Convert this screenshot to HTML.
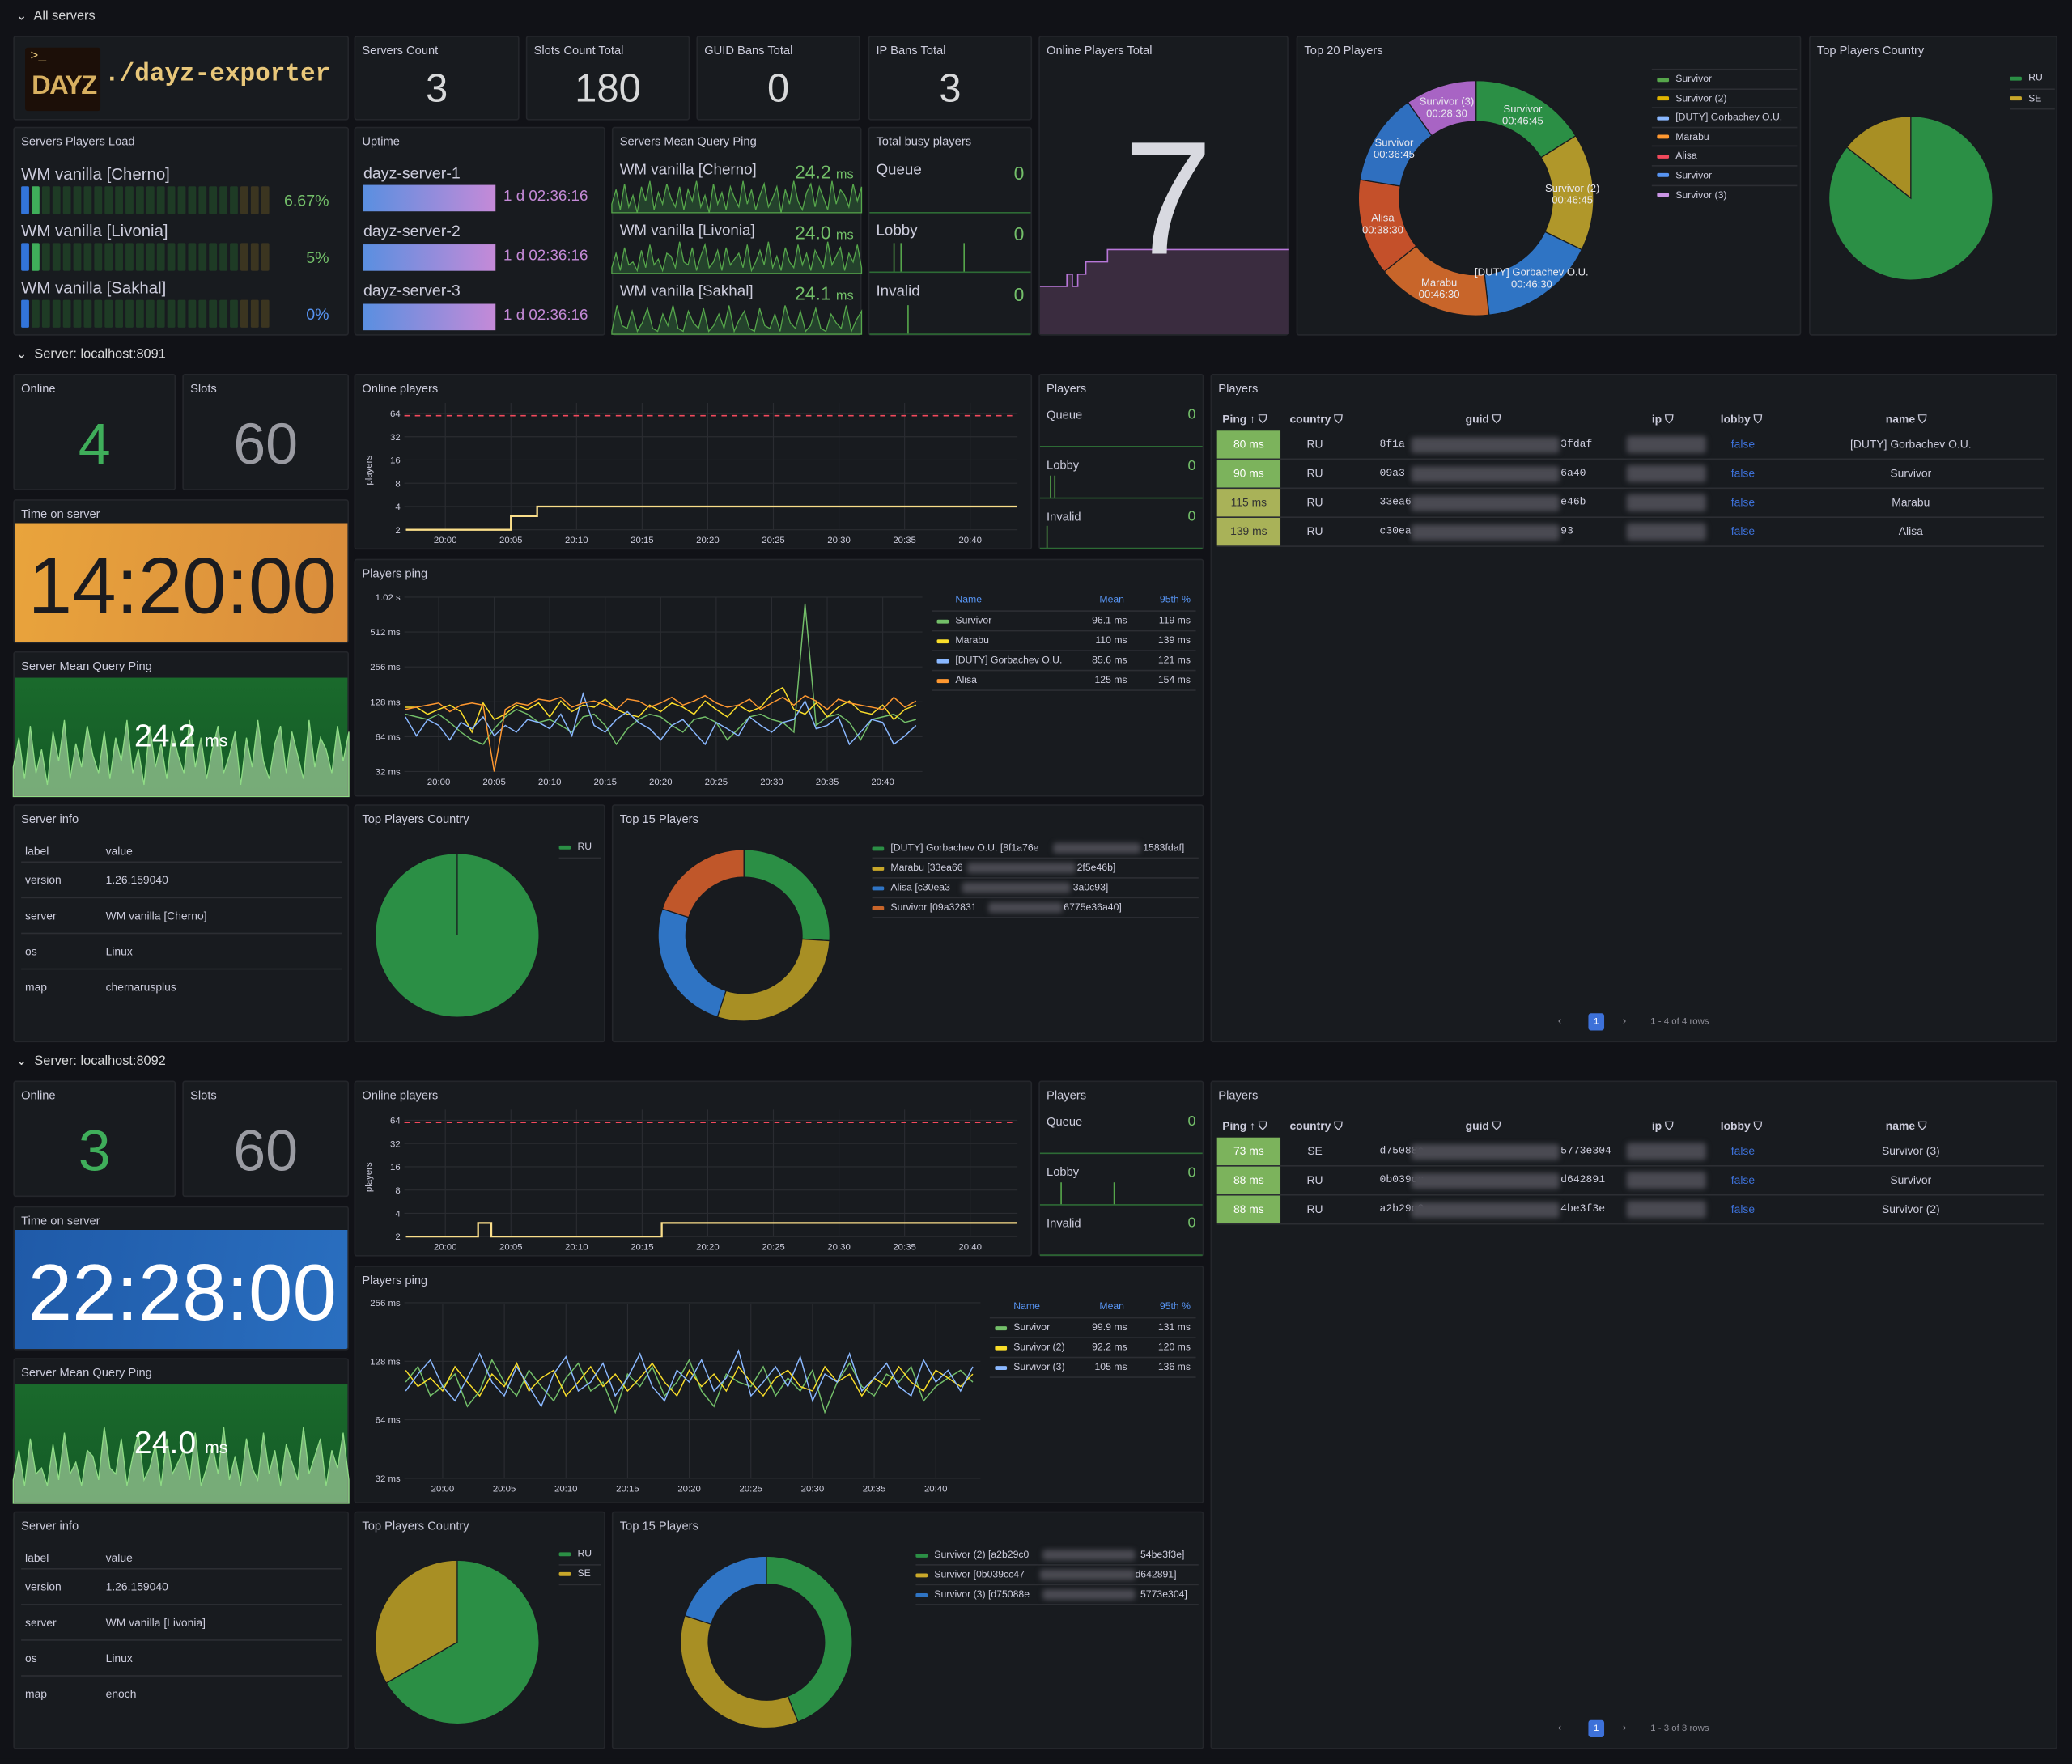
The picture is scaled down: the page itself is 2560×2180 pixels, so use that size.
<!DOCTYPE html>
<html><head><meta charset="utf-8"><style>
html,body{margin:0;padding:0;background:#111217;width:2560px;height:2173px;overflow:hidden}
#root{position:absolute;left:0;top:0;width:1568px;height:1331px;transform:scale(1.632653);transform-origin:0 0;background:#111217;font-family:"Liberation Sans",sans-serif;color:#ccccdc}
.p{position:absolute;background:#181b1f;border:1px solid #24262b;border-radius:2px;box-sizing:border-box;overflow:hidden}
.t{position:absolute;left:5px;top:5px;font-size:9px;color:#ccccdc;white-space:nowrap}
.a{position:absolute;white-space:nowrap}
.sec{position:absolute;left:0;width:1568px;height:800px}
.rh{position:absolute;left:12px;font-size:10px;color:#d8d9da}
.stat{position:absolute;left:0;right:0;text-align:center;color:#d8d9da}
.lg{position:absolute;font-size:7.5px;color:#ccccdc;white-space:nowrap}
.sw{display:inline-block;width:9px;height:3px;border-radius:1px;vertical-align:middle;margin-right:5px}
.row{position:absolute;border-bottom:1px solid #2c2e33}
.blur{position:absolute;background:#4a4a52;filter:blur(2px);border-radius:2px}
.mono{font-family:"Liberation Mono",monospace}
svg.ov{position:absolute;left:0;top:0;pointer-events:none}
</style></head><body>
<div id="root">

<div class="rh" style="top:7px">⌄&nbsp; All servers</div>

<div class="p" style="left:10px;top:27px;width:254px;height:64px">
  <div class="a" style="left:8px;top:8px;width:57px;height:48px;background:#1c0f08;border-radius:2px">
    <div class="a" style="left:4px;top:2px;font-size:10px;color:#e8c77a;font-family:'Liberation Mono',monospace">&gt;_</div>
    <div class="a" style="left:5px;top:18px;font-size:20px;font-weight:bold;color:#d8b060;letter-spacing:-1px">DAYZ</div>
  </div>
  <div class="a mono" style="left:68px;top:17px;font-size:19px;font-weight:bold;color:#e8c77a">./dayz-exporter</div>
</div>
<div class="p" style="left:268px;top:27px;width:125px;height:64px"><div class="t">Servers Count</div><div class="stat" style="top:23px;font-size:30px">3</div></div>
<div class="p" style="left:398px;top:27px;width:124px;height:64px"><div class="t">Slots Count Total</div><div class="stat" style="top:23px;font-size:30px">180</div></div>
<div class="p" style="left:527px;top:27px;width:124px;height:64px"><div class="t">GUID Bans Total</div><div class="stat" style="top:23px;font-size:30px">0</div></div>
<div class="p" style="left:657px;top:27px;width:124px;height:64px"><div class="t">IP Bans Total</div><div class="stat" style="top:23px;font-size:30px">3</div></div>
<div class="p" style="left:786px;top:27px;width:189px;height:227px"><div class="t">Online Players Total</div></div>
<div class="p" style="left:981px;top:27px;width:382px;height:227px"><div class="t">Top 20 Players</div></div>
<div class="p" style="left:1369px;top:27px;width:188px;height:227px"><div class="t">Top Players Country</div></div>

<div class="p" style="left:10px;top:96px;width:254px;height:158px"><div class="t">Servers Players Load</div>
  <div class="a" style="left:5px;top:28px;font-size:12.5px">WM vanilla [Cherno]</div>
  <div class="a" style="right:14px;top:48px;font-size:12px;color:#73bf69">6.67%</div>
  <div class="a" style="left:5px;top:71px;font-size:12.5px">WM vanilla [Livonia]</div>
  <div class="a" style="right:14px;top:91px;font-size:12px;color:#73bf69">5%</div>
  <div class="a" style="left:5px;top:114px;font-size:12.5px">WM vanilla [Sakhal]</div>
  <div class="a" style="right:14px;top:134px;font-size:12px;color:#5794f2">0%</div>
</div>
<div class="p" style="left:268px;top:96px;width:190px;height:158px"><div class="t">Uptime</div>
  <div class="a" style="left:6px;top:27px;font-size:12px">dayz-server-1</div>
  <div class="a" style="left:6px;top:43px;width:100px;height:20px;background:linear-gradient(90deg,#5a8fe0,#c58ad8)"></div>
  <div class="a" style="left:112px;top:46px;font-size:11.5px;color:#c58ad8">1 d 02:36:16</div>
  <div class="a" style="left:6px;top:71px;font-size:12px">dayz-server-2</div>
  <div class="a" style="left:6px;top:88px;width:100px;height:20px;background:linear-gradient(90deg,#5a8fe0,#c58ad8)"></div>
  <div class="a" style="left:112px;top:91px;font-size:11.5px;color:#c58ad8">1 d 02:36:16</div>
  <div class="a" style="left:6px;top:116px;font-size:12px">dayz-server-3</div>
  <div class="a" style="left:6px;top:133px;width:100px;height:20px;background:linear-gradient(90deg,#5a8fe0,#c58ad8)"></div>
  <div class="a" style="left:112px;top:136px;font-size:11.5px;color:#c58ad8">1 d 02:36:16</div>
</div>
<div class="p" style="left:463px;top:96px;width:189px;height:158px"><div class="t">Servers Mean Query Ping</div>
  <div class="a" style="left:5px;top:26px;font-size:11.5px">WM vanilla [Cherno]</div>
  <div class="a" style="right:5px;top:25px;font-size:14px;color:#73bf69">24.2 <span style="font-size:10px">ms</span></div>
  <div class="a" style="left:5px;top:72px;font-size:11.5px">WM vanilla [Livonia]</div>
  <div class="a" style="right:5px;top:71px;font-size:14px;color:#73bf69">24.0 <span style="font-size:10px">ms</span></div>
  <div class="a" style="left:5px;top:118px;font-size:11.5px">WM vanilla [Sakhal]</div>
  <div class="a" style="right:5px;top:117px;font-size:14px;color:#73bf69">24.1 <span style="font-size:10px">ms</span></div>
</div>
<div class="p" style="left:657px;top:96px;width:124px;height:158px"><div class="t">Total busy players</div>
  <div class="a" style="left:5px;top:26px;font-size:11.5px">Queue</div><div class="a" style="right:5px;top:26px;font-size:14px;color:#73bf69">0</div>
  <div class="a" style="left:5px;top:72px;font-size:11.5px">Lobby</div><div class="a" style="right:5px;top:72px;font-size:14px;color:#73bf69">0</div>
  <div class="a" style="left:5px;top:118px;font-size:11.5px">Invalid</div><div class="a" style="right:5px;top:118px;font-size:14px;color:#73bf69">0</div>
</div>

<div class="lg" style="left:1250px;top:52px;width:110px" id="top20legend"></div>
<div class="lg" style="left:1521px;top:52px;width:34px">
 <div style="height:14.5px;border-bottom:1px solid #2c2e33;line-height:14px"><span class="sw" style="background:#2b8f45"></span>RU</div>
 <div style="height:14.5px;border-bottom:1px solid #2c2e33;line-height:14px"><span class="sw" style="background:#c9a82a"></span>SE</div>
</div>

<svg class="ov" id="topsvg" width="1568" height="270" viewBox="0 0 1568 270" style="z-index:2"></svg>
<div class="a" style="left:850px;top:80px;font-size:122px;color:#d8d9e0;z-index:3">7</div>

<!-- SECTION 1 -->
<div class="sec" id="sec1" style="top:0px">
 <div class="rh" style="top:263px">⌄&nbsp; Server: localhost:8091</div>
 <div class="p" style="left:10px;top:283px;width:123px;height:88px"><div class="t">Online</div><div class="stat" style="top:28px;font-size:44px;color:#3fae5a">4</div></div>
 <div class="p" style="left:138px;top:283px;width:126px;height:88px"><div class="t">Slots</div><div class="stat" style="top:28px;font-size:44px;color:#9a9ba2">60</div></div>
 <div class="p" style="left:10px;top:378px;width:254px;height:109px"><div class="t">Time on server</div>
  <div class="a" style="left:0;top:17px;width:254px;height:92px;background:linear-gradient(100deg,#e9a43c,#d98c3c)"></div>
  <div class="a" style="left:0;width:254px;text-align:center;top:30px;font-size:60px;color:#1b1b1f">14:20:00</div></div>
 <div class="p" style="left:10px;top:493px;width:254px;height:110px"><div class="t">Server Mean Query Ping</div>
  <div class="a" style="left:0;top:19px;width:254px;height:91px;background:linear-gradient(180deg,#1a6a2c,#145a26)"></div></div>
 <div class="a" style="left:10px;width:254px;text-align:center;top:544px;font-size:24px;color:#fff;z-index:4">24.2 <span style="font-size:13px">ms</span></div>
 <div class="p" style="left:10px;top:609px;width:254px;height:180px"><div class="t">Server info</div>
  <div class="row" style="left:5px;top:26px;width:243px;height:16px;font-size:8.5px"><span class="a" style="left:3px;top:3px">label</span><span class="a" style="left:64px;top:3px">value</span></div>
  <div class="row" style="left:5px;top:43px;width:243px;height:26px;font-size:8.5px"><span class="a" style="left:3px;top:8px">version</span><span class="a" style="left:64px;top:8px">1.26.159040</span></div>
  <div class="row" style="left:5px;top:70px;width:243px;height:26px;font-size:8.5px"><span class="a" style="left:3px;top:8px">server</span><span class="a" style="left:64px;top:8px">WM vanilla [Cherno]</span></div>
  <div class="row" style="left:5px;top:97px;width:243px;height:26px;font-size:8.5px"><span class="a" style="left:3px;top:8px">os</span><span class="a" style="left:64px;top:8px">Linux</span></div>
  <div class="a" style="left:5px;top:124px;width:243px;height:26px;font-size:8.5px"><span class="a" style="left:3px;top:8px">map</span><span class="a" style="left:64px;top:8px">chernarusplus</span></div>
 </div>
 <div class="p" style="left:268px;top:283px;width:513px;height:133px"><div class="t">Online players</div></div>
 <div class="p" style="left:786px;top:283px;width:125px;height:133px"><div class="t">Players</div>
  <div class="a" style="left:5px;top:25px;font-size:9px">Queue</div><div class="a" style="right:5px;top:24px;font-size:11px;color:#73bf69">0</div>
  <div class="a" style="left:5px;top:63px;font-size:9px">Lobby</div><div class="a" style="right:5px;top:63px;font-size:11px;color:#73bf69">0</div>
  <div class="a" style="left:5px;top:102px;font-size:9px">Invalid</div><div class="a" style="right:5px;top:101px;font-size:11px;color:#73bf69">0</div>
 </div>
 <div class="p" style="left:268px;top:423px;width:643px;height:180px"><div class="t">Players ping</div></div>
 <div class="lg" style="left:705px;top:449px;width:200px">
  <div style="height:13px;border-bottom:1px solid #2c2e33;color:#5794f2;position:relative"><span class="a" style="left:18px">Name</span><span class="a" style="left:127px">Mean</span><span class="a" style="right:4px">95th %</span></div>
  <div style="height:14px;border-bottom:1px solid #2c2e33;position:relative;line-height:14px"><span class="a" style="left:4px"><span class="sw" style="background:#73bf69"></span>Survivor</span><span class="a" style="right:52px">96.1 ms</span><span class="a" style="right:4px">119 ms</span></div>
  <div style="height:14px;border-bottom:1px solid #2c2e33;position:relative;line-height:14px"><span class="a" style="left:4px"><span class="sw" style="background:#fade2a"></span>Marabu</span><span class="a" style="right:52px">110 ms</span><span class="a" style="right:4px">139 ms</span></div>
  <div style="height:14px;border-bottom:1px solid #2c2e33;position:relative;line-height:14px"><span class="a" style="left:4px"><span class="sw" style="background:#8ab8ff"></span>[DUTY] Gorbachev O.U.</span><span class="a" style="right:52px">85.6 ms</span><span class="a" style="right:4px">121 ms</span></div>
  <div style="height:14px;border-bottom:1px solid #2c2e33;position:relative;line-height:14px"><span class="a" style="left:4px"><span class="sw" style="background:#ff9830"></span>Alisa</span><span class="a" style="right:52px">125 ms</span><span class="a" style="right:4px">154 ms</span></div>
 </div>
 <div class="p" style="left:268px;top:609px;width:190px;height:180px"><div class="t">Top Players Country</div>
  <div class="lg" style="left:154px;top:26px;width:32px;border-bottom:1px solid #2c2e33;height:13px"><span class="sw" style="background:#2b8f45"></span>RU</div></div>
 <div class="p" style="left:463px;top:609px;width:448px;height:180px"><div class="t">Top 15 Players</div>
  <div class="lg" style="left:196px;top:25px;width:247px">
   <div style="height:14px;border-bottom:1px solid #2c2e33;line-height:14px;position:relative"><span class="sw" style="background:#2b8f45"></span>[DUTY] Gorbachev O.U. [8f1a76e<span class="blur" style="left:137px;top:3px;width:66px;height:8px"></span><span class="a" style="left:205px">1583fdaf]</span></div>
   <div style="height:14px;border-bottom:1px solid #2c2e33;line-height:14px;position:relative"><span class="sw" style="background:#c9a82a"></span>Marabu [33ea66<span class="blur" style="left:72px;top:3px;width:82px;height:8px"></span><span class="a" style="left:155px">2f5e46b]</span></div>
   <div style="height:14px;border-bottom:1px solid #2c2e33;line-height:14px;position:relative"><span class="sw" style="background:#2f74c4"></span>Alisa [c30ea3<span class="blur" style="left:68px;top:3px;width:82px;height:8px"></span><span class="a" style="left:152px">3a0c93]</span></div>
   <div style="height:14px;border-bottom:1px solid #2c2e33;line-height:14px;position:relative"><span class="sw" style="background:#c8652a"></span>Survivor [09a32831<span class="blur" style="left:88px;top:3px;width:56px;height:8px"></span><span class="a" style="left:145px">6775e36a40]</span></div>
  </div></div>
 <div class="p" style="left:916px;top:283px;width:641px;height:506px"><div class="t">Players</div>
  <div class="a" style="left:8px;top:28px;font-size:8.5px;font-weight:bold">Ping ↑ ⛉</div>
  <div class="a" style="left:59px;top:28px;font-size:8.5px;font-weight:bold">country ⛉</div>
  <div class="a" style="left:192px;top:28px;font-size:8.5px;font-weight:bold">guid ⛉</div>
  <div class="a" style="left:333px;top:28px;font-size:8.5px;font-weight:bold">ip ⛉</div>
  <div class="a" style="left:385px;top:28px;font-size:8.5px;font-weight:bold">lobby ⛉</div>
  <div class="a" style="left:510px;top:28px;font-size:8.5px;font-weight:bold">name ⛉</div>
  <div id="tbl1" class="a" style="left:4px;top:42px;width:626px"></div>
  <div class="a" style="left:262px;top:484px;font-size:8px;color:#8e8e98">‹</div>
  <div class="a" style="left:285px;top:483px;width:12px;height:13px;background:#3d71d9;border-radius:2px;font-size:7px;text-align:center;line-height:13px;color:#fff">1</div>
  <div class="a" style="left:311px;top:484px;font-size:8px;color:#8e8e98">›</div>
  <div class="a" style="left:332px;top:486px;font-size:7px;color:#8e8e98">1 - 4 of 4 rows</div>
 </div>
 <svg class="ov" id="svg1" width="1568" height="800" viewBox="0 0 1568 800" style="z-index:3"></svg>
</div>

<!-- SECTION 2 -->
<div class="sec" id="sec2" style="top:535px">
 <div class="rh" style="top:263px">⌄&nbsp; Server: localhost:8092</div>
 <div class="p" style="left:10px;top:283px;width:123px;height:88px"><div class="t">Online</div><div class="stat" style="top:28px;font-size:44px;color:#3fae5a">3</div></div>
 <div class="p" style="left:138px;top:283px;width:126px;height:88px"><div class="t">Slots</div><div class="stat" style="top:28px;font-size:44px;color:#9a9ba2">60</div></div>
 <div class="p" style="left:10px;top:378px;width:254px;height:109px"><div class="t">Time on server</div>
  <div class="a" style="left:0;top:17px;width:254px;height:92px;background:linear-gradient(100deg,#1f5aa8,#2a6fc0)"></div>
  <div class="a" style="left:0;width:254px;text-align:center;top:30px;font-size:60px;color:#fff">22:28:00</div></div>
 <div class="p" style="left:10px;top:493px;width:254px;height:110px"><div class="t">Server Mean Query Ping</div>
  <div class="a" style="left:0;top:19px;width:254px;height:91px;background:linear-gradient(180deg,#1a6a2c,#145a26)"></div></div>
 <div class="a" style="left:10px;width:254px;text-align:center;top:544px;font-size:24px;color:#fff;z-index:4">24.0 <span style="font-size:13px">ms</span></div>
 <div class="p" style="left:10px;top:609px;width:254px;height:180px"><div class="t">Server info</div>
  <div class="row" style="left:5px;top:26px;width:243px;height:16px;font-size:8.5px"><span class="a" style="left:3px;top:3px">label</span><span class="a" style="left:64px;top:3px">value</span></div>
  <div class="row" style="left:5px;top:43px;width:243px;height:26px;font-size:8.5px"><span class="a" style="left:3px;top:8px">version</span><span class="a" style="left:64px;top:8px">1.26.159040</span></div>
  <div class="row" style="left:5px;top:70px;width:243px;height:26px;font-size:8.5px"><span class="a" style="left:3px;top:8px">server</span><span class="a" style="left:64px;top:8px">WM vanilla [Livonia]</span></div>
  <div class="row" style="left:5px;top:97px;width:243px;height:26px;font-size:8.5px"><span class="a" style="left:3px;top:8px">os</span><span class="a" style="left:64px;top:8px">Linux</span></div>
  <div class="a" style="left:5px;top:124px;width:243px;height:26px;font-size:8.5px"><span class="a" style="left:3px;top:8px">map</span><span class="a" style="left:64px;top:8px">enoch</span></div>
 </div>
 <div class="p" style="left:268px;top:283px;width:513px;height:133px"><div class="t">Online players</div></div>
 <div class="p" style="left:786px;top:283px;width:125px;height:133px"><div class="t">Players</div>
  <div class="a" style="left:5px;top:25px;font-size:9px">Queue</div><div class="a" style="right:5px;top:24px;font-size:11px;color:#73bf69">0</div>
  <div class="a" style="left:5px;top:63px;font-size:9px">Lobby</div><div class="a" style="right:5px;top:63px;font-size:11px;color:#73bf69">0</div>
  <div class="a" style="left:5px;top:102px;font-size:9px">Invalid</div><div class="a" style="right:5px;top:101px;font-size:11px;color:#73bf69">0</div>
 </div>
 <div class="p" style="left:268px;top:423px;width:643px;height:180px"><div class="t">Players ping</div></div>
 <div class="lg" style="left:749px;top:449px;width:156px">
  <div style="height:13px;border-bottom:1px solid #2c2e33;color:#5794f2;position:relative"><span class="a" style="left:18px">Name</span><span class="a" style="left:83px">Mean</span><span class="a" style="right:4px">95th %</span></div>
  <div style="height:14px;border-bottom:1px solid #2c2e33;position:relative;line-height:14px"><span class="a" style="left:4px"><span class="sw" style="background:#73bf69"></span>Survivor</span><span class="a" style="right:52px">99.9 ms</span><span class="a" style="right:4px">131 ms</span></div>
  <div style="height:14px;border-bottom:1px solid #2c2e33;position:relative;line-height:14px"><span class="a" style="left:4px"><span class="sw" style="background:#fade2a"></span>Survivor (2)</span><span class="a" style="right:52px">92.2 ms</span><span class="a" style="right:4px">120 ms</span></div>
  <div style="height:14px;border-bottom:1px solid #2c2e33;position:relative;line-height:14px"><span class="a" style="left:4px"><span class="sw" style="background:#8ab8ff"></span>Survivor (3)</span><span class="a" style="right:52px">105 ms</span><span class="a" style="right:4px">136 ms</span></div>
 </div>
 <div class="p" style="left:268px;top:609px;width:190px;height:180px"><div class="t">Top Players Country</div>
  <div class="lg" style="left:154px;top:26px;width:32px;border-bottom:1px solid #2c2e33;height:13px"><span class="sw" style="background:#2b8f45"></span>RU</div>
  <div class="lg" style="left:154px;top:41px;width:32px;border-bottom:1px solid #2c2e33;height:13px"><span class="sw" style="background:#c9a82a"></span>SE</div></div>
 <div class="p" style="left:463px;top:609px;width:448px;height:180px"><div class="t">Top 15 Players</div>
  <div class="lg" style="left:229px;top:25px;width:214px">
   <div style="height:14px;border-bottom:1px solid #2c2e33;line-height:14px;position:relative"><span class="sw" style="background:#2b8f45"></span>Survivor (2) [a2b29c0<span class="blur" style="left:96px;top:3px;width:70px;height:8px"></span><span class="a" style="left:170px">54be3f3e]</span></div>
   <div style="height:14px;border-bottom:1px solid #2c2e33;line-height:14px;position:relative"><span class="sw" style="background:#c9a82a"></span>Survivor [0b039cc47<span class="blur" style="left:94px;top:3px;width:72px;height:8px"></span><span class="a" style="left:166px">d642891]</span></div>
   <div style="height:14px;border-bottom:1px solid #2c2e33;line-height:14px;position:relative"><span class="sw" style="background:#2f74c4"></span>Survivor (3) [d75088e<span class="blur" style="left:96px;top:3px;width:70px;height:8px"></span><span class="a" style="left:170px">5773e304]</span></div>
  </div></div>
 <div class="p" style="left:916px;top:283px;width:641px;height:506px"><div class="t">Players</div>
  <div class="a" style="left:8px;top:28px;font-size:8.5px;font-weight:bold">Ping ↑ ⛉</div>
  <div class="a" style="left:59px;top:28px;font-size:8.5px;font-weight:bold">country ⛉</div>
  <div class="a" style="left:192px;top:28px;font-size:8.5px;font-weight:bold">guid ⛉</div>
  <div class="a" style="left:333px;top:28px;font-size:8.5px;font-weight:bold">ip ⛉</div>
  <div class="a" style="left:385px;top:28px;font-size:8.5px;font-weight:bold">lobby ⛉</div>
  <div class="a" style="left:510px;top:28px;font-size:8.5px;font-weight:bold">name ⛉</div>
  <div id="tbl2" class="a" style="left:4px;top:42px;width:626px"></div>
  <div class="a" style="left:262px;top:484px;font-size:8px;color:#8e8e98">‹</div>
  <div class="a" style="left:285px;top:483px;width:12px;height:13px;background:#3d71d9;border-radius:2px;font-size:7px;text-align:center;line-height:13px;color:#fff">1</div>
  <div class="a" style="left:311px;top:484px;font-size:8px;color:#8e8e98">›</div>
  <div class="a" style="left:332px;top:486px;font-size:7px;color:#8e8e98">1 - 3 of 3 rows</div>
 </div>
 <svg class="ov" id="svg2" width="1568" height="800" viewBox="0 0 1568 800" style="z-index:3"></svg>
</div>
</div>

<script>
// ---------- DATA ----------
const serverLoads = [6.67, 5, 0];
const sparkCherno = [22,27,20,29,21,25,19,28,23,30,20,26,22,29,24,21,28,20,27,23,30,21,25,19,29,22,26,20,28,24,21,30,22,27,20,25,29,21,24,28,19,27,22,30,23,20,26,29,21,28,24,20,30,22,27,25,21,29,23,28];
const sparkLivonia = [21,26,20,28,22,23,20,27,21,29,22,24,20,26,25,21,30,23,22,28,20,25,29,21,23,27,20,28,22,24,26,21,29,20,23,27,22,30,21,25,20,28,23,21,29,22,26,20,27,24,21,30,22,25,28,20,26,23,29,21];
const sparkSakhal = [20,29,22,21,27,20,23,28,21,20,26,22,29,21,20,27,23,21,28,20,22,26,21,29,20,24,27,21,20,28,22,21,26,20,29,23,21,27,20,22,28,21,20,26,23,21,29,20,24,27];
const totalTimes = [0,5,6,7,8.5,12.5,46];
const totalVals = [4,5,4,5,6,7,7];
const busyLobbyEvents = [7,9,27];
const busyInvalidEvents = [11];
const top20Names = ["Survivor","Survivor (2)","[DUTY] Gorbachev O.U.","Marabu","Alisa","Survivor","Survivor (3)"];
const top20Seconds = [2805,2805,2790,2790,2310,2205,1710];
const top20Labels = ["00:46:45","00:46:45","00:46:30","00:46:30","00:38:30","00:36:45","00:28:30"];
const countryTop = [6,1];
const online1Times = [-3,5,7,43.6];
const online1Vals = [2,3,4,4];
const pingSurvivor1 = [100,95,90,100,85,70,60,55,75,95,110,100,85,90,80,70,95,100,80,55,75,90,100,95,80,70,90,95,85,60,75,95,100,90,85,70,900,80,95,100,85,60,90,95,100,85,90];
const pingMarabu1 = [115,115,100,110,120,105,70,125,90,100,120,110,125,95,130,105,120,115,135,110,100,95,120,105,125,115,100,130,110,95,120,105,115,150,170,110,100,125,95,115,130,105,100,120,90,110,120];
const pingGorbachev1 = [95,65,90,80,60,85,75,95,65,80,70,90,85,75,100,65,150,80,70,90,105,85,75,60,80,90,70,55,85,75,65,95,80,70,85,90,130,75,80,95,55,70,90,85,55,65,80];
const pingAlisa1 = [110,115,120,125,105,120,125,120,32,110,125,120,135,130,140,115,125,130,120,110,135,130,115,125,140,120,130,145,125,115,120,135,110,125,140,120,145,130,110,135,125,120,115,110,140,115,130];
const lobby1Events = [3,4.2];
const invalid1Events = [2];
const country1 = [4];
const top15Values1 = [26,29,25,20];
const online2Times = [-3,2.5,3.5,16.5,43.6];
const online2Vals = [2,3,2,3,3];
const pingSurvivor2 = [100,120,85,95,110,75,90,130,100,85,115,95,80,105,125,90,100,70,110,95,120,85,100,130,90,75,110,100,95,120,85,105,90,115,70,100,125,95,85,110,100,120,80,95,105,115,100];
const pingSurvivorB2 = [115,95,105,90,120,100,85,110,95,125,90,105,115,85,100,120,95,110,90,105,125,100,85,115,95,110,90,120,100,85,105,115,95,90,120,100,110,85,105,95,120,100,90,115,105,95,110];
const pingSurvivorC2 = [90,110,130,95,80,105,140,100,85,120,95,75,110,135,90,100,125,85,105,140,95,80,115,100,130,90,105,145,85,100,120,95,135,80,110,100,140,90,105,125,95,85,130,100,115,90,120];
const lobby2Events = [6,21];
const invalid2Events = [];
const country2 = [2,1];
const top15Values2 = [44,36,20];
const onlineTicksY = [2,4,8,16,32,64];
const timeTicks = [0,5,10,15,20,25,30,35,40];
const ping1TicksY = [32,64,128,256,512,1024];
const ping1TickLabels = ["32 ms","64 ms","128 ms","256 ms","512 ms","1.02 s"];
const ping2TicksY = [32,64,128,256];
const ping2TickLabels = ["32 ms","64 ms","128 ms","256 ms"];
const table1 = [
 {ping:80,country:"RU",g1:"8f1a",g2:"3fdaf",name:"[DUTY] Gorbachev O.U."},
 {ping:90,country:"RU",g1:"09a3",g2:"6a40",name:"Survivor"},
 {ping:115,country:"RU",g1:"33ea6",g2:"e46b",name:"Marabu"},
 {ping:139,country:"RU",g1:"c30ea",g2:"93",name:"Alisa"}];
const table2 = [
 {ping:73,country:"SE",g1:"d75088e",g2:"5773e304",name:"Survivor (3)"},
 {ping:88,country:"RU",g1:"0b039cc",g2:"d642891",name:"Survivor"},
 {ping:88,country:"RU",g1:"a2b29c0",g2:"4be3f3e",name:"Survivor (2)"}];

// ---------- HELPERS ----------
const NS='http://www.w3.org/2000/svg';
function mk(parent,tag,attrs){const e=document.createElementNS(NS,tag);for(const k in attrs)e.setAttribute(k,attrs[k]);parent.appendChild(e);return e;}
function txt(parent,x,y,s,size,fill,anchor){const e=mk(parent,'text',{x:x,y:y,'font-size':size,fill:fill,'text-anchor':anchor||'start','font-family':'Liberation Sans, sans-serif'});e.textContent=s;return e;}
const L2=Math.log2;

function sparkArea(svg,vals,x0,x1,yb,h,lo,hi,line,fill,name){
  const n=vals.length;let d='M'+x0+','+yb;
  vals.forEach((v,i)=>{const x=x0+(x1-x0)*i/(n-1);const y=yb-(v-lo)/(hi-lo)*h;d+=' L'+x.toFixed(1)+','+y.toFixed(1);});
  d+=' L'+x1+','+yb+' Z';
  const p=mk(svg,'path',{d:d,fill:fill,stroke:line,'stroke-width':0.8});
  
  
}
function spikes(svg,events,span,x0,x1,yb,h,name){
  events.forEach(t=>{const x=x0+(x1-x0)*t/span;
    const l=mk(svg,'line',{x1:x,y1:yb,x2:x,y2:yb-h,stroke:'#56a64b','stroke-width':1});
    
    });
  const b=mk(svg,'line',{x1:x0,y1:yb,x2:x1,y2:yb,stroke:'#2d6b35','stroke-width':1});
  
  
}
function arc(cx,cy,r0,r1,a0,a1){
  if(a1-a0>=2*Math.PI-1e-6){a1=a0+2*Math.PI-1e-4;}
  const p=(r,a)=>[cx+r*Math.sin(a),cy-r*Math.cos(a)];const lg=(a1-a0)>Math.PI?1:0;
  const [x0,y0]=p(r1,a0),[x1,y1]=p(r1,a1);
  if(r0<=0){return `M${cx},${cy} L${x0},${y0} A${r1},${r1} 0 ${lg} 1 ${x1},${y1} Z`;}
  const [x2,y2]=p(r0,a1),[x3,y3]=p(r0,a0);
  return `M${x0},${y0} A${r1},${r1} 0 ${lg} 1 ${x1},${y1} L${x2},${y2} A${r0},${r0} 0 ${lg} 0 ${x3},${y3} Z`;
}
function donut(svg,vals,colors,cx,cy,r0,r1,name,startDir){
  const tot=vals.reduce((a,b)=>a+b,0);let a=0;const mids=[];
  vals.forEach((v,i)=>{const s=v/tot*2*Math.PI;const a0=startDir*a, a1=startDir*(a+s);
    const p=mk(svg,'path',{d:arc(cx,cy,r0,r1,Math.min(a0,a1),Math.max(a0,a1)),fill:colors[i],stroke:'#181b1f','stroke-width':0.8});
    
    
    mids.push(startDir*(a+s/2));a+=s;});
  return mids;
}
function gridAndAxes(svg,xf,yf,ticksY,labelsY,left,right,top0,bottom,name){
  ticksY.forEach((v,i)=>{const y=yf(v);
    const g=mk(svg,'line',{x1:left,y1:y,x2:right,y2:y,stroke:'#2a2c31','stroke-width':0.7});
    
    
    const t=txt(svg,left-3,y+2.5,labelsY[i],7,'#ccccdc','end');
    
    });
  timeTicks.forEach(m=>{const x=xf(m);
    const g=mk(svg,'line',{x1:x,y1:top0,x2:x,y2:bottom,stroke:'#2a2c31','stroke-width':0.7});
    
    
    const lbl='20:'+(m<10?'0':'')+m;
    const t=txt(svg,x,bottom+10,lbl,7,'#ccccdc','middle');
    
    });
}
function lineSeries(svg,vals,start,xf,yf,color,name){
  let d='';vals.forEach((v,i)=>{d+=(i?' L':'M')+xf(start+i).toFixed(1)+','+yf(v).toFixed(1);});
  const p=mk(svg,'path',{d:d,fill:'none',stroke:color,'stroke-width':0.9});
  
  
}
function stepSeries(svg,times,vals,xf,yf,color,name){
  let d='M'+xf(times[0]).toFixed(1)+','+yf(vals[0]).toFixed(1);
  for(let i=1;i<times.length;i++){d+=' H'+xf(times[i]).toFixed(1)+' V'+yf(vals[i]).toFixed(1);}
  const p=mk(svg,'path',{d:d,fill:'none',stroke:color,'stroke-width':1.4});
  
  
}

// ---------- TOP ----------
const topSvg=document.getElementById('topsvg');
serverLoads.forEach((v,r)=>{
  const lit=Math.max(1,Math.ceil(v/100*24));
  for(let i=0;i<24;i++){
    let c=i<21?'#1e3b25':'#3b3520';
    if(i<lit)c=i===0?'#3274d9':'#3fae5a';
    const x=16+i*7.9;const y=141+r*43;
    const rc=mk(topSvg,'rect',{x:x,y:y,width:6,height:21,fill:c,rx:1});
    
    
  }
});
sparkArea(topSvg,sparkCherno,463,652,161,24,19,30,'#56a64b','rgba(60,140,70,0.35)','spark-cherno');
sparkArea(topSvg,sparkLivonia,463,652,207,24,19,30,'#56a64b','rgba(60,140,70,0.35)','spark-livonia');
sparkArea(topSvg,sparkSakhal,463,652,253,24,19,30,'#56a64b','rgba(60,140,70,0.35)','spark-sakhal');
spikes(topSvg,[],46,658,780,161,0,'busy-queue-spark');
spikes(topSvg,busyLobbyEvents,46,658,780,206,22,'busy-lobby-spark');
spikes(topSvg,busyInvalidEvents,46,658,780,253,22,'busy-invalid-spark');
(function(){const xf=t=>787+t*(975-787)/46, yf=v=>254-v*9.3;
  let d='M787,'+yf(totalVals[0]);
  for(let i=1;i<totalTimes.length;i++){d+=' H'+xf(totalTimes[i]).toFixed(1)+' V'+yf(totalVals[i]).toFixed(1);}
  const p=mk(topSvg,'path',{d:'M787,253 L'+d.slice(1)+' V253 Z',fill:'#3a2c3f',stroke:'none'});
  
  
  const l=mk(topSvg,'path',{d:d,fill:'none',stroke:'#b877d9','stroke-width':1});
  
  })();
const top20Colors=['#2b8f45','#b0972a','#2f74c4','#c8652a','#c4502a','#2f6fbf','#a864c4'];
const mids=donut(topSvg,top20Seconds,top20Colors,1117,150,58,89,'top20',1);
mids.forEach((a,i)=>{const r=73;const x=1117+r*Math.sin(a),y=150-r*Math.cos(a);
  const t1=txt(topSvg,x,y-1,top20Names[i],8,'#e8e8ee','middle');
  
  
  const t2=txt(topSvg,x,y+8,top20Labels[i],8,'#e8e8ee','middle');
  
  });
const lgd=document.getElementById('top20legend');
top20Names.forEach((n,i)=>{const d=document.createElement('div');
  
  
  d.style.cssText='height:13.6px;border-top:1px solid #2c2e33;line-height:13.6px;padding-left:4px';
  const lc=['#56a64b','#e0b400','#8ab8ff','#ff9830','#f2495c','#5794f2','#ca95e5'][i];
  d.innerHTML='<span class="sw" style="background:'+lc+'"></span>'+n;lgd.appendChild(d);});
donut(topSvg,countryTop,['#2b8f45','#a88f24'],1446,150,0,62,'top-country',1);

// ---------- SECTIONS ----------
function section(svg,cfg){
  const oxf=t=>337+t*9.93, oyf=v=>401-(L2(v)-1)*17.6;
  gridAndAxes(svg,oxf,oyf,onlineTicksY,onlineTicksY.map(String),306,770,305,401,'online-chart');
  const yl=txt(svg,0,0,'players',7,'#ccccdc','middle');
  yl.setAttribute('transform','translate(281,356) rotate(-90)');
  
  
  const dl=mk(svg,'line',{x1:306,y1:oyf(60),x2:770,y2:oyf(60),stroke:'#f2495c','stroke-width':1,'stroke-dasharray':'4 4'});
  
  
  stepSeries(svg,cfg.onT,cfg.onV,oxf,oyf,'#fade8a','online-players-line');
  spikes(svg,cfg.lobby,46,787,910,377,17,'players-lobby-spark');
  spikes(svg,cfg.invalid,46,787,910,415,17,'players-invalid-spark');
  spikes(svg,[],46,787,910,338,0,'players-queue-spark');
  gridAndAxes(svg,cfg.pxf,cfg.pyf,cfg.pt,cfg.pl,306,cfg.pr,cfg.ptop,584,'ping-chart');
  cfg.series.forEach((s,i)=>lineSeries(svg,s,-3,cfg.pxf,cfg.pyf,cfg.colors[i],'ping-line-'+cfg.names[i]));
  sparkArea(svg,cfg.spark,10,264,603,58,17,30,'#8fdc85','rgba(185,225,175,0.6)','server-ping-spark');
  donut(svg,cfg.country,['#2b8f45','#a88f24'],346,708,0,62,'country-pie',1);
  donut(svg,cfg.top15,cfg.t15c,cfg.dcx,708,cfg.dr0,cfg.dr1,'top15-donut',1);
  const tb=document.getElementById(cfg.tbl);
  cfg.rows.forEach((r,i)=>{const d=document.createElement('div');
    
    
    d.style.cssText='position:absolute;left:0;top:'+(i*22)+'px;width:626px;height:21px;border-bottom:1px solid #2c2e33;font-size:8.5px;line-height:21px';
    const bg=r.ping<100?'#7cb35c':'#a9b258';
    d.innerHTML='<div class="a" style="left:0;top:0;width:48px;height:21px;background:'+bg+';text-align:center;color:'+(r.ping<100?'#fff':'#333')+'">'+r.ping+' ms</div>'+
      '<div class="a" style="left:48px;width:52px;text-align:center">'+r.country+'</div>'+
      '<div class="a mono" style="left:123px;font-size:8px">'+r.g1+'</div><div class="blur" style="left:147px;top:5px;width:112px;height:12px"></div><div class="a mono" style="left:260px;font-size:8px">'+r.g2+'</div>'+
      '<div class="blur" style="left:310px;top:4px;width:60px;height:13px"></div>'+
      '<div class="a" style="left:389px;color:#3d71d9">false</div>'+
      '<div class="a" style="left:425px;width:200px;text-align:center">'+r.name+'</div>';
    tb.appendChild(d);});
}
section(document.getElementById('svg1'),{onT:online1Times,onV:online1Vals,lobby:lobby1Events,invalid:invalid1Events,
  pxf:t=>332+t*8.4,pyf:v=>584-(L2(v)-5)*26.4,pt:ping1TicksY,pl:ping1TickLabels,pr:698,ptop:452,
  series:[pingSurvivor1,pingMarabu1,pingGorbachev1,pingAlisa1],colors:['#73bf69','#fade2a','#8ab8ff','#ff9830'],names:['survivor','marabu','gorbachev','alisa'],
  spark:sparkCherno,country:country1,top15:top15Values1,t15c:['#2b8f45','#a88f24','#2f74c4','#c0572a'],dcx:563,dr0:44,dr1:65,tbl:'tbl1',rows:table1});
section(document.getElementById('svg2'),{onT:online2Times,onV:online2Vals,lobby:lobby2Events,invalid:invalid2Events,
  pxf:t=>335+t*9.33,pyf:v=>584-(L2(v)-5)*44.3,pt:ping2TicksY,pl:ping2TickLabels,pr:742,ptop:452,
  series:[pingSurvivor2,pingSurvivorB2,pingSurvivorC2],colors:['#73bf69','#fade2a','#8ab8ff'],names:['survivor','survivor-2','survivor-3'],
  spark:sparkLivonia,country:country2,top15:top15Values2,t15c:['#2b8f45','#a88f24','#2f74c4'],dcx:580,dr0:44,dr1:65,tbl:'tbl2',rows:table2});
</script>
</body></html>
